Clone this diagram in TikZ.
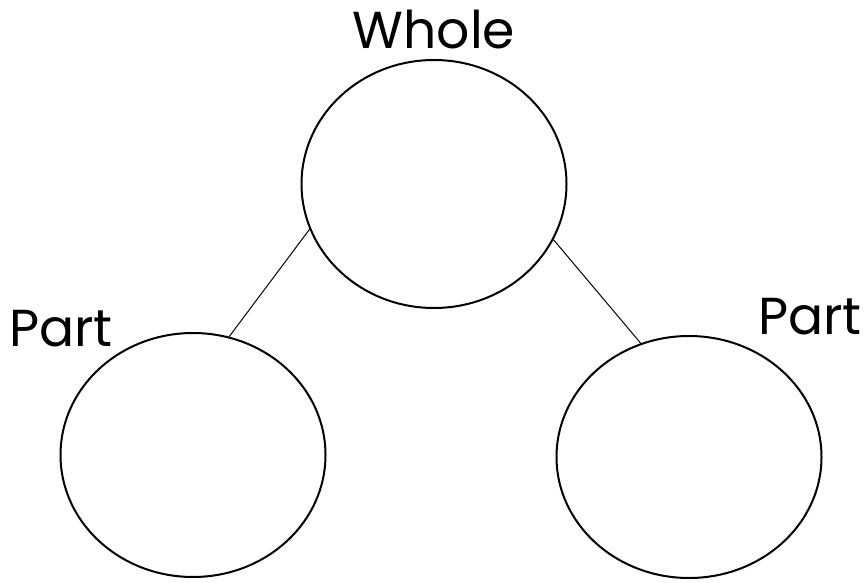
\documentclass[tikz,border=0pt]{standalone}
\usepackage{fontspec}
\setmainfont{Poppins}
\usetikzlibrary{shapes.geometric}
\begin{document}
\begin{tikzpicture}[x=1pt,y=-1pt,
  circ/.style={draw,ellipse,line width=2pt,minimum width=265pt,minimum height=246pt,inner sep=0},
  lbl/.style={inner sep=0,font=\fontsize{52}{62}\selectfont},
  conn/.style={line width=1pt}]
\useasboundingbox (0,0) rectangle (865,583);
\node[circ,minimum height=248pt] (whole) at (434,184) {};
\node[circ,minimum height=244pt] (left) at (193,455) {};
\node[circ,minimum height=242pt] (right) at (689,457) {};
\node[lbl] (tw) at (434,29) {Whole};
\node[lbl] (tl) at (61,329) {Part};
\node[lbl] (tr) at (810,317) {Part};
\draw[conn] (whole.200.5) -- (left.73.8);
\draw[conn] (whole.335.6) -- (right.113.7);
\end{tikzpicture}
\end{document}
